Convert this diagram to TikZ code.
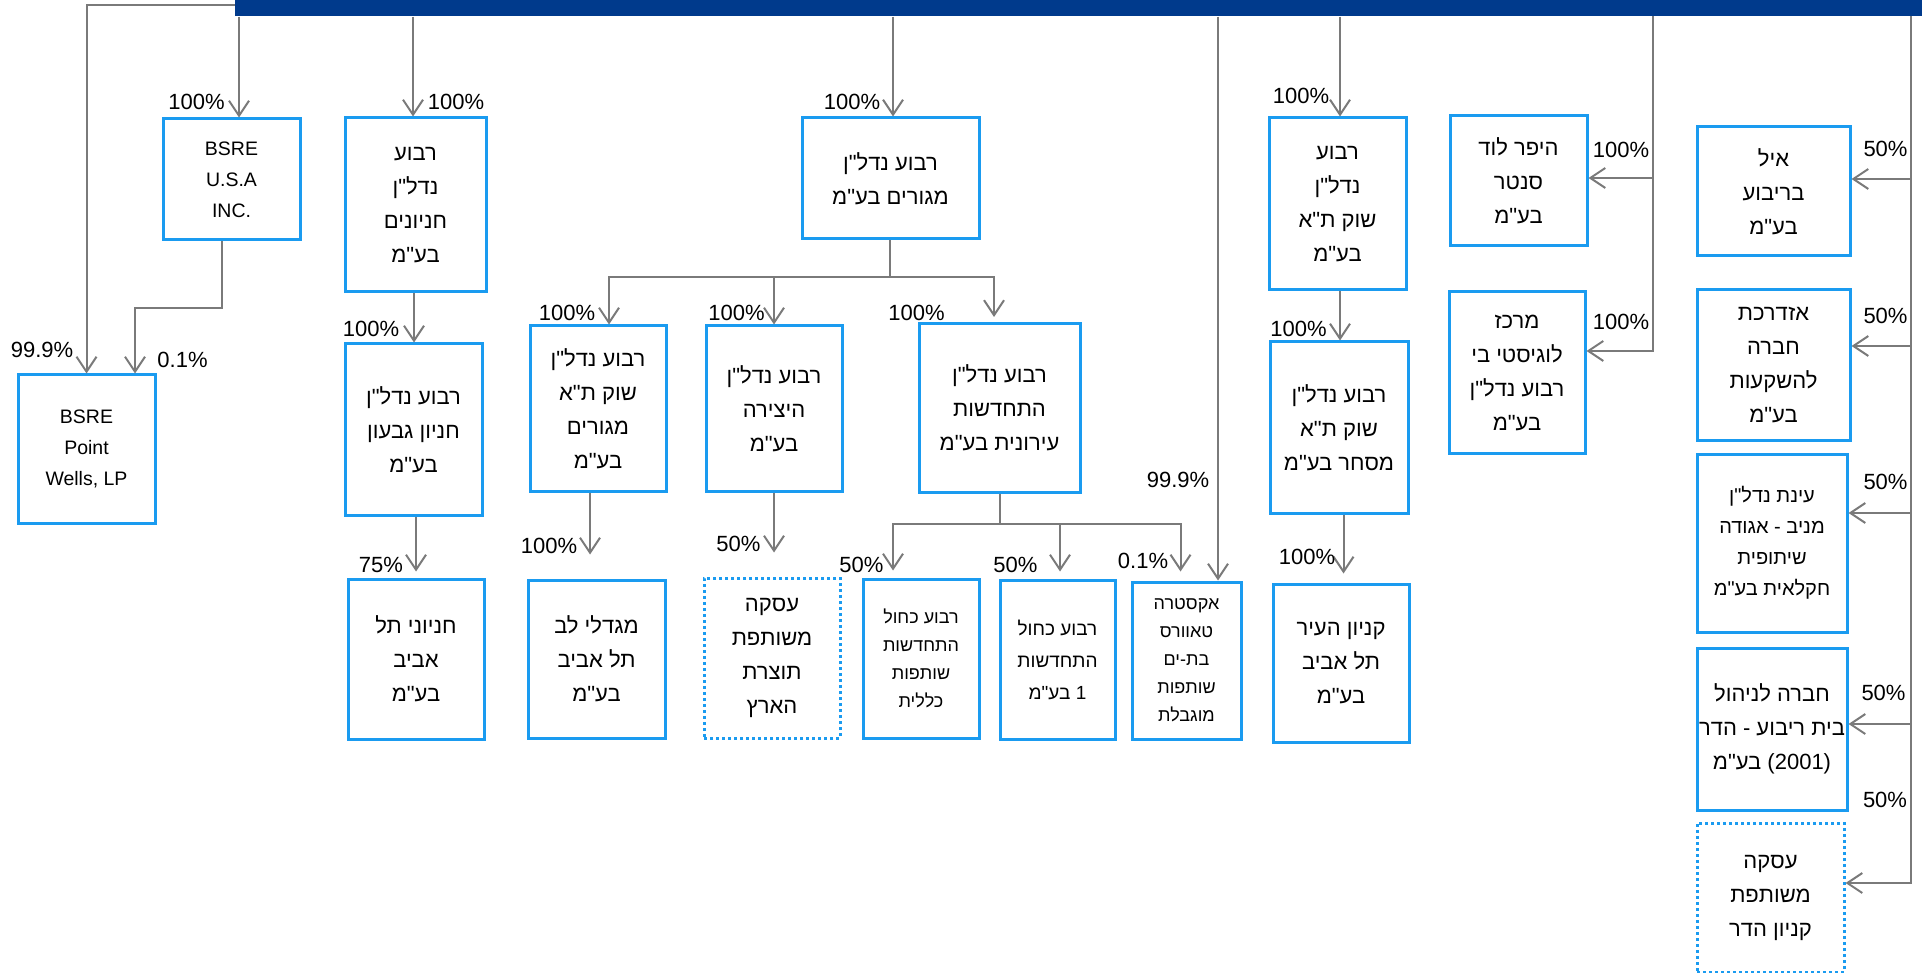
\documentclass[tikz,border=0pt]{standalone}
\usepackage{fontspec}
\setmainfont{Liberation Sans}
\newfontfamily\hebfont[Script=Hebrew]{Liberation Sans}
\TeXXeTstate=1
\usetikzlibrary{arrows.meta}
\definecolor{barblue}{RGB}{0,58,140}
\definecolor{boxblue}{RGB}{26,155,240}
\definecolor{linegray}{RGB}{122,122,122}
\newcommand{\hb}[1]{\beginR#1\endR}
\begin{document}
\begin{tikzpicture}[x=1pt,y=-1pt,
    box/.style={draw=boxblue,line width=3pt,align=center,inner sep=0pt,font=\hebfont\fontsize{22}{34}\selectfont},
    dbox/.style={box,dash pattern=on 3pt off 3pt},
    wh/.style 2 args={minimum width=#1pt,minimum height=#2pt},
    medtxt/.style={font=\hebfont\fontsize{20}{31}\selectfont},
    smalltxt/.style={font=\hebfont\fontsize{18}{28}\selectfont},
    latintxt/.style={font=\fontsize{19.5}{31}\selectfont},
    pct/.style={font=\fontsize{22}{26}\selectfont,inner sep=0pt},
    conn/.style={draw=linegray,line width=2pt},
    arr/.style={conn,-{Straight Barb[length=15pt,width=20pt]}}]
  \useasboundingbox (0,0) rectangle (1922,973);
  \node[fill=barblue,inner sep=0pt,wh={1687}{16.5}] (bar) at (1078.5,8.25) {};

  \node[box,latintxt,wh={137}{121}] (usa) at (231.5,179.5) {BSRE\\U.S.A\\INC.};
  \node[box,latintxt,wh={137}{148}] (wells) at (86.5,449) {BSRE\\Point\\Wells, LP};
  \node[box,wh={141}{174}] (hanyonim) at (415.5,205) {\hb{רבוע}\\\hb{נדל"ן}\\\hb{חניונים}\\\hb{בע"מ}};
  \node[box,wh={137}{171}] (givon) at (413.5,429.5) {\hb{רבוע נדל"ן}\\\hb{חניון גבעון}\\\hb{בע"מ}};
  \node[box,wh={136}{160}] (hanyoneitlv) at (416,659) {\hb{חניוני תל}\\\hb{אביב}\\\hb{בע"מ}};
  \node[box,wh={177}{121}] (megurim) at (890.5,178.5) {\hb{רבוע נדל"ן}\\\hb{מגורים בע"מ}};
  \node[box,wh={136}{165}] (shuktamegurim) at (598,408.5) {\hb{רבוע נדל"ן}\\\hb{שוק ת"א}\\\hb{מגורים}\\\hb{בע"מ}};
  \node[box,wh={136}{165}] (hayetzira) at (774,408.5) {\hb{רבוע נדל"ן}\\\hb{היצירה}\\\hb{בע"מ}};
  \node[box,wh={161}{168}] (hithadshut) at (999.5,408) {\hb{רבוע נדל"ן}\\\hb{התחדשות}\\\hb{עירונית בע"מ}};
  \node[box,wh={137}{158}] (migdalei) at (596.5,659) {\hb{מגדלי לב}\\\hb{תל אביב}\\\hb{בע"מ}};
  \node[dbox,wh={136}{160}] (iskatotzeret) at (772,658) {\hb{עסקה}\\\hb{משותפת}\\\hb{תוצרת}\\\hb{הארץ}};
  \node[box,smalltxt,wh={116}{159}] (kaholklalit) at (921,658.5) {\hb{רבוע כחול}\\\hb{התחדשות}\\\hb{שותפות}\\\hb{כללית}};
  \node[box,font=\hebfont\fontsize{19}{32}\selectfont,wh={115}{159}] (kahol1) at (1057.5,659.5) {\hb{רבוע כחול}\\\hb{התחדשות}\\\hb{1 בע"מ}};
  \node[box,smalltxt,wh={109}{157}] (extra) at (1186.5,660.5) {\hb{אקסטרה}\\\hb{טאוורס}\\\hb{בת-ים}\\\hb{שותפות}\\\hb{מוגבלת}};
  \node[box,wh={137}{172}] (shukta) at (1337.5,204) {\hb{רבוע}\\\hb{נדל"ן}\\\hb{שוק ת"א}\\\hb{בע"מ}};
  \node[box,wh={138}{171}] (mishar) at (1339,427.5) {\hb{רבוע נדל"ן}\\\hb{שוק ת"א}\\\hb{מסחר בע"מ}};
  \node[box,wh={136}{158}] (kenyon) at (1341,663) {\hb{קניון העיר}\\\hb{תל אביב}\\\hb{בע"מ}};
  \node[box,wh={137}{130}] (hyper) at (1518.5,181) {\hb{היפר לוד}\\\hb{סנטר}\\\hb{בע"מ}};
  \node[box,wh={136}{161}] (merkaz) at (1517,372.5) {\hb{מרכז}\\\hb{לוגיסטי בי}\\\hb{רבוע נדל"ן}\\\hb{בע"מ}};
  \node[box,wh={153}{129}] (eyal) at (1773.5,191.5) {\hb{איל}\\\hb{בריבוע}\\\hb{בע"מ}};
  \node[box,wh={153}{150}] (azedarachet) at (1773.5,365) {\hb{אזדרכת}\\\hb{חברה}\\\hb{להשקעות}\\\hb{בע"מ}};
  \node[box,medtxt,wh={150}{178}] (einat) at (1772,543) {\hb{עינת נדל"ן}\\\hb{מניב - אגודה}\\\hb{שיתופית}\\\hb{חקלאית בע"מ}};
  \node[box,wh={150}{162}] (hevra) at (1772,729) {\hb{חברה לניהול}\\\hb{בית ריבוע - הדר}\\\hb{\beginL(2001)\endL{} בע"מ}};
  \node[dbox,wh={147}{149}] (iskahadar) at (1770.5,897.5) {\hb{עסקה}\\\hb{משותפת}\\\hb{קניון הדר}};

  \draw[arr] ([yshift=-5pt]bar.north west) -| (wells.north);
  \draw[arr] ([xshift=7.5pt]usa.north |- bar.south) -- ([xshift=7.5pt]usa.north);
  \draw[arr] ([xshift=-9.5pt]usa.south) -- ++(0,66.5) -| ([xshift=48.5pt]wells.north);
  \draw[arr] ([xshift=-2.5pt]hanyonim.north |- bar.south) -- ([xshift=-2.5pt]hanyonim.north);
  \draw[arr] ([xshift=-1.5pt]hanyonim.south) -- ([xshift=-1.5pt]hanyonim.south |- givon.north);
  \draw[arr] (givon.south -| hanyoneitlv.north) -- ([yshift=6pt]hanyoneitlv.north);
  \draw[arr] ([xshift=2.5pt]megurim.north |- bar.south) -- ([xshift=2.5pt]megurim.north);
  \draw[conn] ([xshift=-1pt]megurim.south) -- ++(0,36.5) coordinate (mj);
  \draw[arr] (mj) -| ([xshift=11pt]shuktamegurim.north);
  \draw[arr] (mj) -| (hayetzira.north);
  \draw[arr] (mj) -| ([xshift=-5.5pt,yshift=5.5pt]hithadshut.north);
  \draw[arr] ([xshift=-8pt]shuktamegurim.south) -- ([xshift=-8pt,yshift=24pt]shuktamegurim.south |- migdalei.north);
  \draw[arr] (hayetzira.south) -- ([yshift=24pt]hayetzira.south |- iskatotzeret.north);
  \draw[conn] (hithadshut.south) -- ++(0,30) coordinate (hj);
  \draw[arr] (hj) -| ([xshift=-28pt,yshift=7pt]kaholklalit.north);
  \draw[arr] (hj) -| ([xshift=2.5pt,yshift=7pt]kahol1.north);
  \draw[arr] (hj) -| ([xshift=-6pt,yshift=9pt]extra.north);
  \draw[arr] ([xshift=31.5pt]extra.north |- bar.south) -- ([xshift=31.5pt]extra.north);
  \draw[arr] ([xshift=2.5pt]shukta.north |- bar.south) -- ([xshift=2.5pt]shukta.north);
  \draw[arr] ([xshift=2.5pt]shukta.south) -- ([xshift=2.5pt]shukta.south |- mishar.north);
  \draw[arr] ([xshift=4.5pt]mishar.south) -- ([xshift=4.5pt,yshift=9pt]mishar.south |- kenyon.north);
  \coordinate (hubA) at (1652.6,16.5);
  \draw[arr] (hubA) |- ([yshift=3pt]hyper.east);
  \draw[arr] (hubA) |- ([yshift=21.5pt]merkaz.east);
  \coordinate (hubB) at (1911,16.5);
  \draw[arr] (hubB) |- ([yshift=12.5pt]eyal.east);
  \draw[arr] (hubB) |- ([yshift=19pt]azedarachet.east);
  \draw[arr] (hubB) |- ([yshift=30pt]einat.east);
  \draw[arr] (hubB) |- ([yshift=5pt]hevra.east);
  \draw[arr] (hubB) |- ([yshift=14.5pt]iskahadar.east);

  \foreach \n/\x/\y/\t in {usa/196.5/102/100, hanyonim/456/102/100, givon/371/329/100,
      wells/42/350/99.9, wellsb/182.5/360/0.1, hanyoneitlv/381/565/75, megurim/852/102/100,
      shuktamegurim/567/313/100, hayetzira/736.5/313/100, hithadshut/916.5/313/100,
      migdalei/549/546/100, iskatotzeret/738.5/544/50, kaholklalit/861.5/565/50,
      kahol1/1015.5/565/50, extrab/1143/561/0.1, extra/1178/480/99.9, shukta/1301/96/100,
      mishar/1298.5/329/100, kenyon/1307/557/100, hyper/1621/150/100, merkaz/1621/322/100,
      eyal/1885.5/149/50, azedarachet/1885.5/316/50, einat/1885.5/482/50,
      hevra/1883.5/693/50, iskahadar/1885/800/50}
    \node[pct] (p\n) at (\x,\y) {\t\%};
\end{tikzpicture}
\end{document}
